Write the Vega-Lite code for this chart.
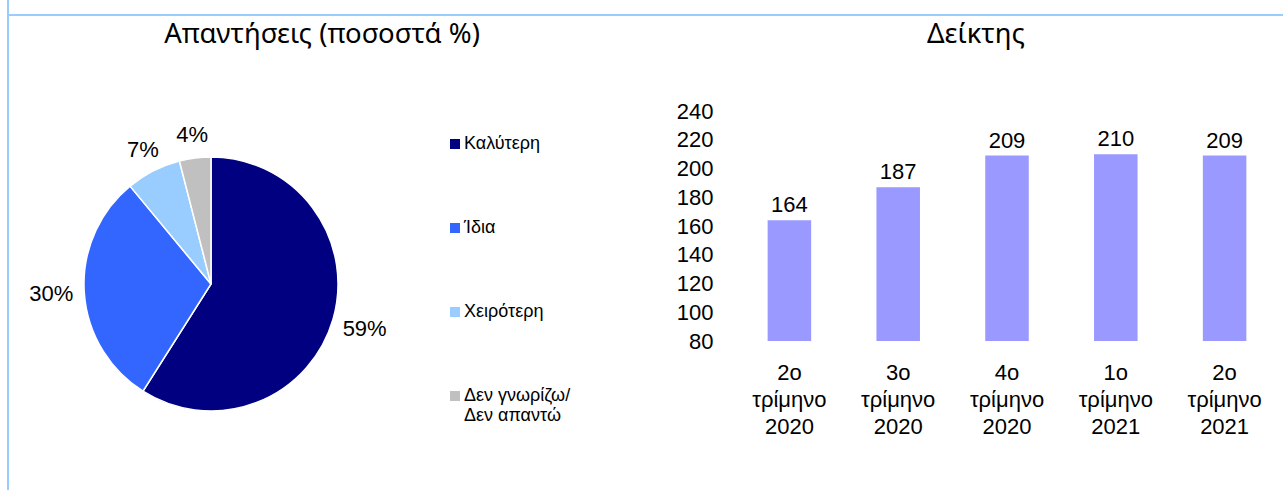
{
  "$schema": "https://vega.github.io/schema/vega-lite/v6.json",
  "padding": {"left": 7, "top": 0, "right": 0, "bottom": 0},
  "background": "white",
  "config": {"font": "Liberation Sans", "view": {"stroke": null}, "axis": {"labelColor": "#000"}, "title": {"color": "#000"}},
  "spacing": 0,
  "bounds": "flush",
  "align": "none",
  "resolve": {"scale": {"color": "independent"}, "legend": {"color": "independent"}},
  "hconcat": [
    {"width": 2, "height": 490, "data": {"values": []}, "mark": "point", "view": {"fill": "#99CCFF", "stroke": null}},
    {
      "spacing": 0,
      "bounds": "flush",
      "align": "none",
      "resolve": {"scale": {"color": "independent"}, "legend": {"color": "independent"}},
      "vconcat": [
        {"width": 1274, "height": 14, "data": {"values": []}, "mark": "point"},
        {"width": 1274, "height": 2, "data": {"values": []}, "mark": "point", "view": {"fill": "#99CCFF", "stroke": null}},
        {"width": 1274, "height": 95, "data": {"values": []}, "mark": "point"},
        {
          "spacing": 322,
          "bounds": "flush",
          "align": "none",
          "resolve": {"scale": {"color": "independent"}, "legend": {"color": "independent"}},
          "hconcat": [
            {
              "width": 404,
              "height": 346,
              "title": {"text": "Απαντήσεις (ποσοστά %)", "font": "Noto Sans", "fontSize": 27.5, "fontWeight": "normal", "frame": "group", "anchor": "middle", "dx": 111, "offset": 63},
              "data": {"values": [
                {"cat": "Καλύτερη", "share": 0.59},
                {"cat": "Ίδια", "share": 0.30},
                {"cat": "Χειρότερη", "share": 0.07},
                {"cat": "Δεν γνωρίζω/Δεν απαντώ", "share": 0.04}
              ]},
              "encoding": {
                "theta": {"field": "share", "type": "quantitative", "stack": true},
                "order": {"field": "share", "type": "quantitative", "sort": "descending"}
              },
              "layer": [
                {
                  "mark": {"type": "arc", "outerRadius": 127, "stroke": "#ffffff", "strokeWidth": 1.5},
                  "encoding": {
                    "color": {
                      "field": "cat", "type": "nominal",
                      "scale": {"domain": ["Καλύτερη", "Ίδια", "Χειρότερη", "Δεν γνωρίζω/Δεν απαντώ"], "range": ["#000080", "#3366FF", "#99CCFF", "#C0C0C0"]},
                      "legend": {
                        "title": null, "orient": "right", "offset": 9, "padding": 24,
                        "symbolType": "square", "symbolSize": 100, "symbolStrokeWidth": 0,
                        "labelFontSize": 18, "labelColor": "#000", "rowPadding": 66, "labelOffset": 0, "labelLimit": 300,
                        "labelExpr": "datum.label == 'Δεν γνωρίζω/Δεν απαντώ' ? ['Δεν γνωρίζω/', 'Δεν απαντώ'] : datum.label"
                      }
                    }
                  }
                },
                {
                  "mark": {"type": "text", "radius": {"expr": "datum.share < 0.1 ? 150 : 160"}, "fontSize": 22, "color": "#000"},
                  "encoding": {
                    "detail": {"field": "cat", "type": "nominal"},
                    "text": {"field": "share", "type": "quantitative", "format": ".0%"}
                  }
                }
              ]
            },
            {
              "width": 544,
              "height": 230,
              "title": {"text": "Δείκτης", "font": "Noto Sans", "fontSize": 27.5, "fontWeight": "normal", "frame": "group", "anchor": "middle", "dx": -31, "offset": 52},
              "data": {"values": [
                {"q": "2ο τρίμηνο 2020", "v": 164},
                {"q": "3ο τρίμηνο 2020", "v": 187},
                {"q": "4ο τρίμηνο 2020", "v": 209},
                {"q": "1ο τρίμηνο 2021", "v": 210},
                {"q": "2ο τρίμηνο 2021", "v": 209}
              ]},
              "encoding": {
                "x": {"field": "q", "type": "nominal", "sort": null, "title": null,
                      "scale": {"paddingInner": 0.6, "paddingOuter": 0.3},
                      "axis": {"labelAngle": 0, "domain": false, "ticks": false, "labelFontSize": 22, "labelLineHeight": 27, "labelPadding": 21, "labelExpr": "split(datum.label, ' ')"}},
                "y": {"field": "v", "type": "quantitative", "title": null,
                      "scale": {"domain": [80, 240], "zero": false, "nice": false},
                      "axis": {"values": [80, 100, 120, 140, 160, 180, 200, 220, 240], "domain": false, "ticks": false, "grid": false, "labelFontSize": 22, "labelPadding": 22}}
              },
              "layer": [
                {"mark": {"type": "bar", "color": "#9999FF"}, "encoding": {"y2": {"datum": 80}}},
                {"mark": {"type": "text", "fontSize": 22, "baseline": "alphabetic", "dy": -8, "color": "#000"}, "encoding": {"text": {"field": "v", "type": "quantitative"}}}
              ]
            }
          ]
        }
      ]
    }
  ]
}
